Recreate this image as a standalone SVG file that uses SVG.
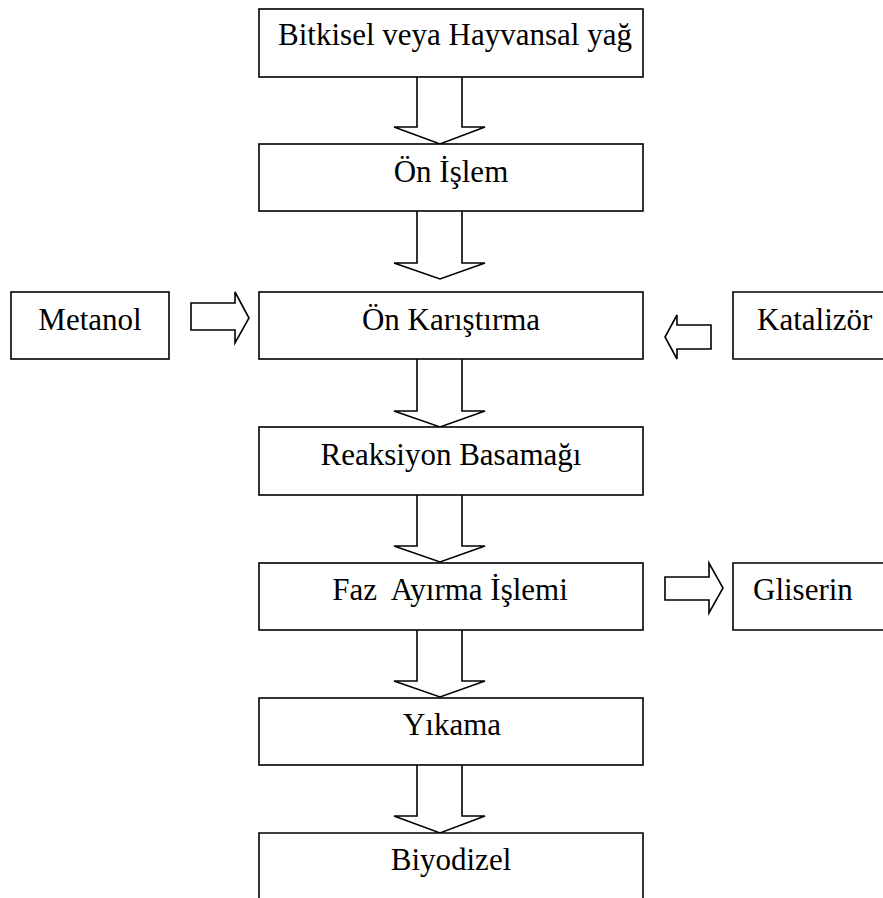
<svg xmlns="http://www.w3.org/2000/svg" width="883" height="898" viewBox="0 0 883 898">
<style>
.b{fill:#fff;stroke:#000;stroke-width:1.6}
.a{fill:#fff;stroke:#000;stroke-width:1.6;stroke-linejoin:miter}
text{font-family:"Liberation Serif","Times New Roman",serif;font-size:31px;fill:#000;white-space:pre}
.c{text-anchor:middle}
</style>
<rect width="883" height="898" fill="#fff"/>
<g id="connectors">
<path class="a" d="M417,77 V127 H394 L440,144 L485,127 H462 V77"/>
<path class="a" d="M417,211 V263 H394 L440,279 L485,263 H462 V211"/>
<path class="a" d="M417,359 V411 H394 L440,427 L485,411 H462 V359"/>
<path class="a" d="M417,495 V546 H394 L440,562 L485,546 H462 V495"/>
<path class="a" d="M417,630 V681 H394 L440,697 L485,681 H462 V630"/>
<path class="a" d="M417,765 V816 H394 L440,833 L485,816 H462 V765"/>
<path class="a" d="M191,303 H235 V292 L249,318 L235,343 V330 H191 Z"/>
<path class="a" d="M711,325 H677 V315 L665,337 L677,359 V349 H711 Z"/>
<path class="a" d="M665,577 H709 V563 L723,588 L709,613 V600 H665 Z"/>
</g>
<g id="n1"><rect class="b" x="259" y="9" width="384" height="68"/><text class="c" x="455" y="45">Bitkisel veya Hayvansal yağ</text></g>
<g id="n2"><rect class="b" x="259" y="144" width="384" height="67"/><text class="c" x="451" y="182">Ön İşlem</text></g>
<g id="n3"><rect class="b" x="259" y="292" width="384" height="67"/><text class="c" x="451" y="330">Ön Karıştırma</text></g>
<g id="n4"><rect class="b" x="11" y="292" width="158" height="67"/><text class="c" x="90" y="330">Metanol</text></g>
<g id="n5"><path class="b" d="M884,292 H733 V359 H884"/><text x="757" y="330">Katalizör</text></g>
<g id="n6"><rect class="b" x="259" y="427" width="384" height="68"/><text class="c" x="451" y="465">Reaksiyon Basamağı</text></g>
<g id="n7"><rect class="b" x="259" y="563" width="384" height="67"/><text class="c" x="450" y="600" xml:space="preserve">Faz  Ayırma İşlemi</text></g>
<g id="n8"><path class="b" d="M884,563 H733 V630 H884"/><text x="753" y="600">Gliserin</text></g>
<g id="n9"><rect class="b" x="259" y="698" width="384" height="67"/><text class="c" x="452" y="735">Yıkama</text></g>
<g id="n10"><path class="b" d="M259,900 V833 H643 V900"/><text class="c" x="451" y="870">Biyodizel</text></g>
</svg>
